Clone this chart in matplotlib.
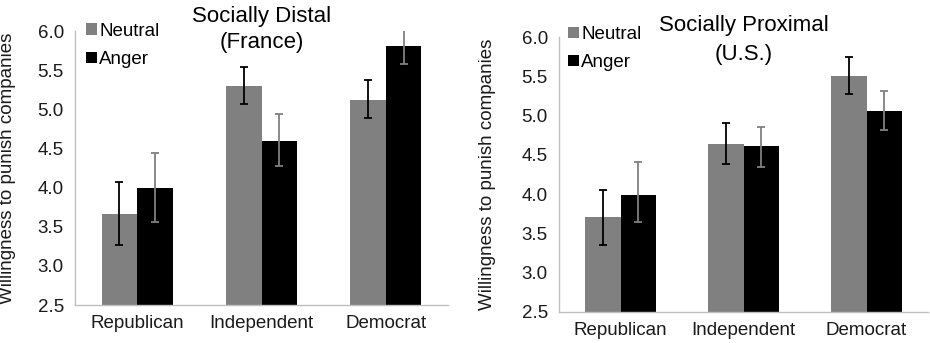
import numpy as np
import matplotlib
matplotlib.use("Agg")
import matplotlib.pyplot as plt
from matplotlib.patches import Patch

plt.rcParams["font.family"] = ["Liberation Sans", "DejaVu Sans"]

# data
categories = ["Republican", "Independent", "Democrat"]
series = ["Neutral", "Anger"]

distal_neutral = [3.66, 5.30, 5.12]
distal_neutral_lo = [3.27, 5.07, 4.89]
distal_neutral_hi = [4.07, 5.54, 5.37]
distal_anger = [4.00, 4.60, 5.81]
distal_anger_lo = [3.56, 4.28, 5.58]
distal_anger_hi = [4.44, 4.94, 6.05]

proximal_neutral = [3.71, 4.64, 5.50]
proximal_neutral_lo = [3.35, 4.38, 5.28]
proximal_neutral_hi = [4.05, 4.90, 5.74]
proximal_anger = [3.99, 4.61, 5.06]
proximal_anger_lo = [3.65, 4.35, 4.82]
proximal_anger_hi = [4.41, 4.85, 5.31]

yticks = [2.5, 3.0, 3.5, 4.0, 4.5, 5.0, 5.5, 6.0]

BAR_COLORS = {"Neutral": "#808080", "Anger": "#000000"}
ERR_COLORS = {"Neutral": "#000000", "Anger": "#808080"}
AXIS_COLOR = "#bfbfbf"
TEXT_COLOR = "#1a1a1a"

W, H = 930, 343
fig = plt.figure(figsize=(W / 100, H / 100), dpi=100)


def draw_panel(rect, title, title_y, title_ls, leg_anchor, label_x, neutral, anger):
	ax = fig.add_axes([rect[0] / W, (H - rect[3]) / H, (rect[2] - rect[0]) / W, (rect[3] - rect[1]) / H])
	x = np.arange(len(categories))
	width = 0.285
	for i, (name, (vals, lo, hi)) in enumerate(zip(series, [neutral, anger])):
		vals = np.array(vals)
		err = [vals - np.array(lo), np.array(hi) - vals]
		pos = x + (i - 0.5) * width
		ax.bar(pos, vals - 2.5, bottom=2.5, width=width, color=BAR_COLORS[name])
		ax.errorbar(pos, vals, yerr=err, fmt="none", ecolor=ERR_COLORS[name],
			elinewidth=1.3, capsize=3, capthick=1.3)

	ax.set_xlim(-0.5, len(categories) - 0.5)
	ax.set_ylim(2.5, 6.0)
	ax.set_yticks(yticks)
	ax.set_yticklabels([f"{t:.1f}" for t in yticks], fontsize=13.5)
	ax.set_xticks(x)
	ax.set_xticklabels(categories, fontsize=13.5)
	ax.tick_params(axis="both", length=0, colors=TEXT_COLOR)
	ax.tick_params(axis="y", pad=8)
	ax.tick_params(axis="x", pad=7)
	for side in ["top", "right"]:
		ax.spines[side].set_visible(False)
	for side in ["left", "bottom"]:
		ax.spines[side].set_color(AXIS_COLOR)
		ax.spines[side].set_linewidth(1.0)
	ax.set_ylabel("Willingness to punish companies", fontsize=13.5, color=TEXT_COLOR)
	ax.yaxis.set_label_coords(label_x, 0.5)

	ax.text(0.5, title_y, title, transform=ax.transAxes, ha="center", va="top",
		fontsize=16, color="#000000", linespacing=title_ls)

	handles = [Patch(facecolor=BAR_COLORS[s], edgecolor="none", label=s) for s in series]
	ax.legend(handles=handles, loc="upper left", bbox_to_anchor=leg_anchor, frameon=False,
		fontsize=13.5, handlelength=0.55, handleheight=0.55, handletextpad=0.15,
		labelspacing=0.6, borderpad=0, borderaxespad=0)
	return ax


draw_panel((75, 31, 448, 305), "Socially Distal\n(France)", 1.09, 1.3, (0.03, 1.03), -0.158,
	(distal_neutral, distal_neutral_lo, distal_neutral_hi),
	(distal_anger, distal_anger_lo, distal_anger_hi))
draw_panel((559, 37, 928, 312), "Socially Proximal\n(U.S.)", 1.08, 1.5, (0.025, 1.04), -0.171,
	(proximal_neutral, proximal_neutral_lo, proximal_neutral_hi),
	(proximal_anger, proximal_anger_lo, proximal_anger_hi))

fig.savefig("out.png", dpi=100)
